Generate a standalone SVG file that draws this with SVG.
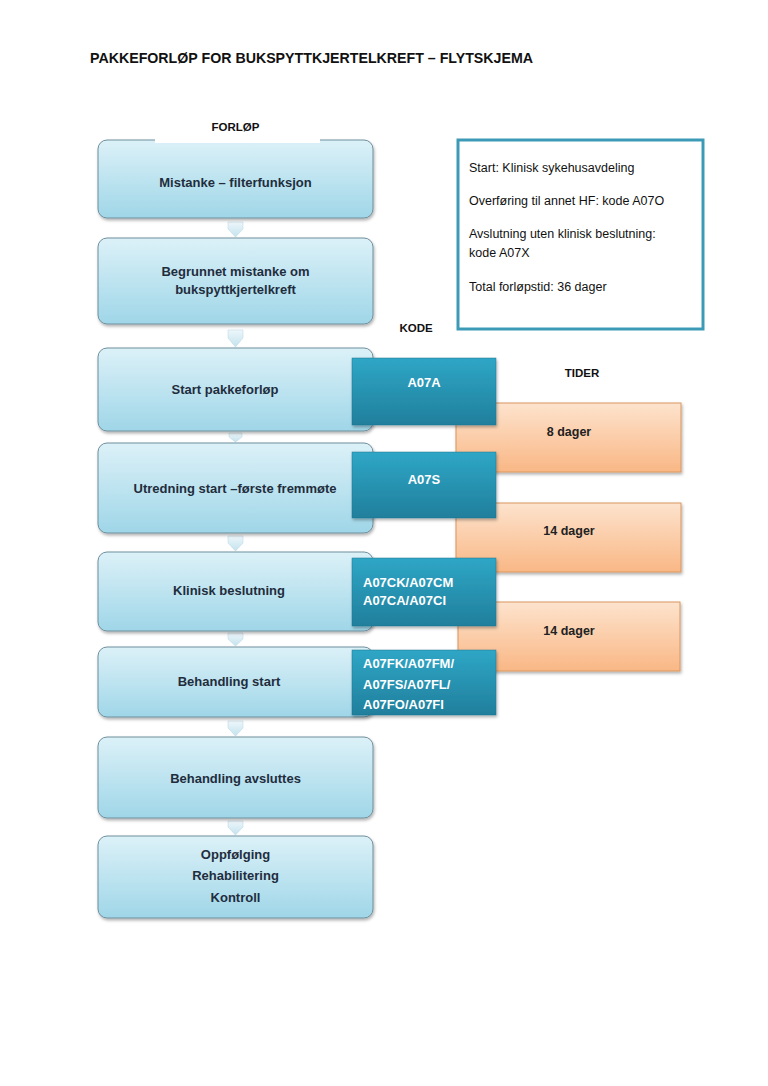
<svg xmlns="http://www.w3.org/2000/svg" width="768" height="1086" viewBox="0 0 768 1086">
<defs>
<linearGradient id="gBlue" x1="0" y1="0" x2="0" y2="1"><stop offset="0" stop-color="#dcf1f8"/><stop offset="1" stop-color="#9fd6e8"/></linearGradient>
<linearGradient id="gTeal" x1="0" y1="0" x2="0" y2="1"><stop offset="0" stop-color="#2fa6c6"/><stop offset="1" stop-color="#207f9c"/></linearGradient>
<linearGradient id="gOrange" x1="0" y1="0" x2="0" y2="1"><stop offset="0" stop-color="#fde3cd"/><stop offset="1" stop-color="#f9b785"/></linearGradient>
<linearGradient id="gArrow" x1="0" y1="0" x2="0" y2="1"><stop offset="0" stop-color="#eef7fb"/><stop offset="1" stop-color="#c3e2ee"/></linearGradient>
<filter id="sh" x="-10%" y="-10%" width="125%" height="130%"><feDropShadow dx="1" dy="2" stdDeviation="1.5" flood-color="#000" flood-opacity="0.3"/></filter>
</defs>
<style>
.blue{fill:url(#gBlue);stroke:#6f8f9c;stroke-width:1;filter:url(#sh)}
.teal{fill:url(#gTeal);stroke:#1e7590;stroke-width:0.5;filter:url(#sh)}
.orange{fill:url(#gOrange);stroke:#d9965f;stroke-width:1;filter:url(#sh)}
.arr{fill:url(#gArrow);stroke:#b8d5e0;stroke-width:0.5}
text{font-family:"Liberation Sans",Arial,sans-serif}
.bt{font-size:13px;font-weight:bold;fill:#1f2d3d;text-anchor:middle}
.ct{font-size:13px;font-weight:bold;fill:#ffffff}
.ot{font-size:12.5px;font-weight:bold;fill:#222222;text-anchor:middle}
.lbl{font-size:11.5px;font-weight:bold;fill:#111111;text-anchor:middle}
.info{font-size:12.5px;fill:#111111}
</style>
<rect width="768" height="1086" fill="#ffffff"/>
<text x="90" y="63" font-size="15.5" font-weight="bold" fill="#111" textLength="443" lengthAdjust="spacingAndGlyphs">PAKKEFORLØP FOR BUKSPYTTKJERTELKREFT – FLYTSKJEMA</text>

<g id="connectors">
<path class="arr" d="M228,222 L243,222 L243,229 L235.5,237 L228,229 Z"/>
<path class="arr" d="M228,330 L243,330 L243,338 L235.5,347 L228,338 Z"/>
<path class="arr" d="M229,433 L242,433 L242,437 L235.5,442 L229,437 Z"/>
<path class="arr" d="M228,536 L243,536 L243,543 L235.5,551 L228,543 Z"/>
<path class="arr" d="M228,633 L243,633 L243,639 L235.5,646 L228,639 Z"/>
<path class="arr" d="M228,721 L243,721 L243,728 L235.5,736 L228,728 Z"/>
<path class="arr" d="M228,821 L243,821 L243,827 L235.5,835 L228,827 Z"/>
</g>

<g id="n1"><rect class="blue" x="98" y="140" width="275" height="78" rx="9"/><rect x="155" y="136" width="165" height="7" fill="#fff"/><text class="bt" x="235.5" y="187">Mistanke – filterfunksjon</text></g>
<g id="n2"><rect class="blue" x="98" y="238" width="275" height="86" rx="9"/><text class="bt" x="235.5" y="276">Begrunnet mistanke om</text><text class="bt" x="235.5" y="294">bukspyttkjertelkreft</text></g>
<g id="n3"><rect class="blue" x="98" y="348" width="275" height="83" rx="9"/><text class="bt" x="225" y="394">Start pakkeforløp</text></g>
<g id="n4"><rect class="blue" x="98" y="443" width="275" height="90" rx="9"/><text class="bt" x="235" y="493">Utredning start –første fremmøte</text></g>
<g id="n5"><rect class="blue" x="98" y="552" width="275" height="79" rx="9"/><text class="bt" x="229" y="595">Klinisk beslutning</text></g>
<g id="n6"><rect class="blue" x="98" y="647" width="275" height="70" rx="9"/><text class="bt" x="229" y="686">Behandling start</text></g>
<g id="n7"><rect class="blue" x="98" y="737" width="275" height="81" rx="9"/><text class="bt" x="235.5" y="783">Behandling avsluttes</text></g>
<g id="n8"><rect class="blue" x="98" y="836" width="275" height="82" rx="9"/><text class="bt" x="235.5" y="859">Oppfølging</text><text class="bt" x="235.5" y="880">Rehabilitering</text><text class="bt" x="235.5" y="902">Kontroll</text></g>

<text class="lbl" x="235.5" y="131">FORLØP</text>
<text class="lbl" x="416" y="332">KODE</text>
<text class="lbl" x="582" y="377">TIDER</text>

<g id="t1"><rect class="orange" x="456" y="403" width="225" height="69"/><text class="ot" x="569" y="436">8 dager</text></g>
<g id="t2"><rect class="orange" x="456" y="503" width="225" height="69"/><text class="ot" x="569" y="535">14 dager</text></g>
<g id="t3"><rect class="orange" x="458" y="602" width="222" height="69"/><text class="ot" x="569" y="635">14 dager</text></g>

<g id="c1"><rect class="teal" x="352" y="358" width="144" height="67"/><text class="ct" x="424" y="387" text-anchor="middle">A07A</text></g>
<g id="c2"><rect class="teal" x="352" y="452" width="144" height="66"/><text class="ct" x="424" y="484" text-anchor="middle">A07S</text></g>
<g id="c3"><rect class="teal" x="352" y="558" width="144" height="68"/><text class="ct" x="363" y="587">A07CK/A07CM</text><text class="ct" x="363" y="605">A07CA/A07CI</text></g>
<g id="c4"><rect class="teal" x="352" y="650" width="144" height="65"/><text class="ct" x="363" y="668">A07FK/A07FM/</text><text class="ct" x="363" y="689">A07FS/A07FL/</text><text class="ct" x="363" y="709">A07FO/A07FI</text></g>

<g id="info"><rect x="458" y="140" width="245" height="189" fill="#ffffff" stroke="#3d9ab6" stroke-width="3"/>
<text class="info" x="469" y="172">Start: Klinisk sykehusavdeling</text>
<text class="info" x="469" y="205">Overføring til annet HF: kode A07O</text>
<text class="info" x="469" y="238">Avslutning uten klinisk beslutning:</text>
<text class="info" x="469" y="257">kode A07X</text>
<text class="info" x="469" y="291">Total forløpstid: 36 dager</text>
</g>
</svg>
